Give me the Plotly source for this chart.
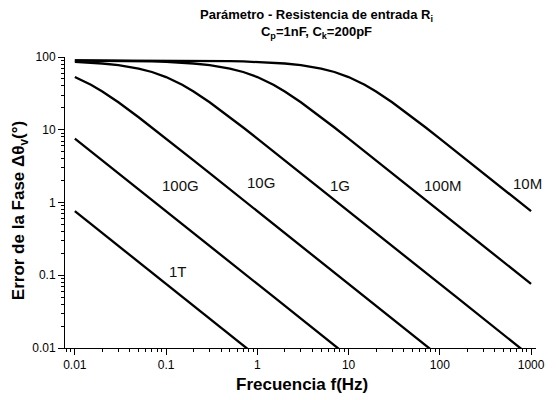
import plotly.graph_objects as go
import math

# Frequency grid (Hz)
freq = [0.01, 0.015, 0.02, 0.03, 0.05, 0.07, 0.1, 0.15, 0.2, 0.3, 0.5, 0.7,
        1, 1.5, 2, 3, 5, 7, 10, 15, 20, 30, 50, 70, 100, 150, 200, 300, 500, 700, 1000]

# Phase error (degrees), one list per input resistance
err_10M = [89.96, 89.94, 89.91, 89.87, 89.78, 89.70, 89.57, 89.35, 89.14, 88.70, 87.84, 86.98,
           85.69, 83.55, 81.42, 77.25, 69.34, 62.18, 52.98, 41.48, 33.55, 23.85, 14.86, 10.73,
           7.55, 5.05, 3.79, 2.53, 1.52, 1.085, 0.760]
err_100M = [89.57, 89.35, 89.14, 88.70, 87.84, 86.98, 85.69, 83.55, 81.42, 77.25, 69.34, 62.18,
            52.98, 41.48, 33.55, 23.85, 14.86, 10.73, 7.55, 5.05, 3.79, 2.53, 1.52, 1.085,
            0.760, 0.507, 0.380, 0.253, 0.152, 0.1085, 0.0760]
err_1G = [85.69, 83.55, 81.42, 77.25, 69.34, 62.18, 52.98, 41.48, 33.55, 23.85, 14.86, 10.73,
          7.55, 5.05, 3.79, 2.53, 1.52, 1.085, 0.760, 0.507, 0.380, 0.253, 0.152, 0.1085,
          0.0760, 0.0507, 0.0380, 0.0253, 0.0152, 0.01085, 0.0076]
err_10G = [52.98, 41.48, 33.55, 23.85, 14.86, 10.73, 7.55, 5.05, 3.79, 2.53, 1.52, 1.085,
           0.760, 0.507, 0.380, 0.253, 0.152, 0.1085, 0.0760, 0.0507, 0.0380, 0.0253, 0.0152,
           0.01085, 0.0076]
err_100G = [7.55, 5.05, 3.79, 2.53, 1.52, 1.085, 0.760, 0.507, 0.380, 0.253, 0.152, 0.1085,
            0.0760, 0.0507, 0.0380, 0.0253, 0.0152, 0.01085, 0.0076]
err_1T = [0.760, 0.507, 0.380, 0.253, 0.152, 0.1085, 0.0760, 0.0507, 0.0380, 0.0253, 0.0152,
          0.01085, 0.0076]

series_names = ["10M", "100M", "1G", "10G", "100G", "1T"]
series_values = [err_10M, err_100M, err_1G, err_10G, err_100G, err_1T]

x_tickvals = [0.01, 0.1, 1, 10, 100, 1000]
x_ticktext = ["0.01", "0.1", "1", "10", "100", "1000"]
y_tickvals = [0.01, 0.1, 1, 10, 100]
y_ticktext = ["0.01", "0.1", "1", "10", "100"]

# Curve label positions (frequency, value)
label_pos = {
    "10M": (906, 1.85),
    "100M": (108, 1.74),
    "1G": (8.1, 1.74),
    "10G": (1.1, 1.91),
    "100G": (0.145, 1.74),
    "1T": (0.136, 0.111),
}

FONT = "Liberation Sans, Arial, sans-serif"

fig = go.Figure()
for name, vals in zip(series_names, series_values):
    fig.add_trace(go.Scatter(
        x=freq[:len(vals)], y=vals, mode="lines", name=name,
        line=dict(color="black", width=2.3), showlegend=False,
    ))

x_minor = [m * 10 ** k for k in range(-3, 4) for m in range(2, 10)]
y_minor = [m * 10 ** k for k in range(-2, 2) for m in range(2, 10)]

axis_common = dict(
    type="log", showline=True, linecolor="black", linewidth=1, mirror=False,
    showgrid=False, zeroline=False, ticks="outside", ticklen=6, tickwidth=1,
    tickcolor="black", tickfont=dict(family=FONT, size=12, color="black"),
    tickmode="array",
)

fig.update_layout(
    width=557, height=400,
    margin=dict(l=65, r=15, t=57, b=52),
    paper_bgcolor="white", plot_bgcolor="white",
    font=dict(family=FONT, color="black"),
    xaxis=dict(
        **axis_common,
        range=[-2.108, 3.054],
        tickvals=x_tickvals, ticktext=x_ticktext,
        minor=dict(tickmode="array", tickvals=x_minor, ticks="outside",
                   ticklen=3, tickwidth=1, tickcolor="black", showgrid=False),
    ),
    yaxis=dict(
        **axis_common,
        range=[-2, 2],
        tickvals=y_tickvals, ticktext=y_ticktext,
        minor=dict(tickmode="array", tickvals=y_minor, ticks="outside",
                   ticklen=3, tickwidth=1, tickcolor="black", showgrid=False),
    ),
)

for name, (fx, fy) in label_pos.items():
    fig.add_annotation(
        x=math.log10(fx), y=math.log10(fy), xref="x", yref="y", text=name,
        showarrow=False, font=dict(family=FONT, size=15, color="#111"),
    )

# Title
fig.add_annotation(
    xref="paper", yref="paper", x=0.535, y=1.178, xanchor="center", yanchor="top",
    text="<b>Parámetro - Resistencia de entrada R<sub>i</sub></b><br>"
         "<b>C<sub>p</sub>=1nF, C<sub>k</sub>=200pF</b>",
    showarrow=False, align="center", font=dict(family=FONT, size=13, color="black"),
)
# Axis titles
fig.add_annotation(
    xref="paper", yref="paper", x=0.503, y=-0.127, xanchor="center", yanchor="middle",
    text="<b>Frecuencia f(Hz)</b>", showarrow=False,
    font=dict(family=FONT, size=17, color="black"),
)
fig.add_annotation(
    xref="paper", yref="paper", x=-0.095, y=0.471, xanchor="center", yanchor="middle",
    text="<b>Error de la Fase Δθ<sub>v</sub>(°)</b>", showarrow=False, textangle=-90,
    font=dict(family=FONT, size=17, color="black"),
)

fig.write_html("out.html")
